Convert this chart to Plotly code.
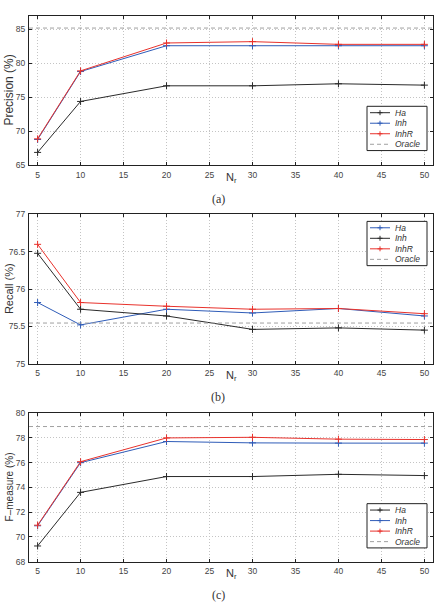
import plotly.graph_objects as go

N_r = [5, 10, 20, 30, 40, 50]

# (a) Precision
prec_ha = [66.9, 74.4, 76.7, 76.7, 77.0, 76.8]
prec_inh = [68.8, 78.8, 82.6, 82.6, 82.6, 82.6]
prec_inhr = [68.9, 78.9, 83.0, 83.2, 82.8, 82.8]
prec_oracle = 85.2

# (b) Recall
rec_ha = [75.82, 75.52, 75.73, 75.68, 75.74, 75.64]
rec_inh = [76.48, 75.73, 75.64, 75.46, 75.48, 75.45]
rec_inhr = [76.60, 75.82, 75.77, 75.73, 75.74, 75.67]
rec_oracle = 75.545

# (c) F-measure
f_ha = [69.27, 73.6, 74.88, 74.88, 75.06, 74.96]
f_inh = [70.9, 76.0, 77.71, 77.6, 77.58, 77.58]
f_inhr = [70.95, 76.08, 78.0, 78.05, 77.9, 77.87]
f_oracle = 78.92

x_ticks = [5, 10, 15, 20, 25, 30, 35, 40, 45, 50]
y_ticks_a = [65, 70, 75, 80, 85]
y_ticks_b = [75, 75.5, 76, 76.5, 77]
y_ticks_c = [68, 70, 72, 74, 76, 78, 80]

series_names = ["Ha", "Inh", "InhR", "Oracle"]

BLACK = "#2a2a2a"
BLUE = "#2f5cb8"
RED = "#e8322c"
GRAY = "#a0a0a0"
FONT = "Liberation Sans"

W, H = 440, 608
fig = go.Figure()


def add_series(ax, x, y, name, color):
    fig.add_trace(go.Scatter(
        x=x, y=y, name=name, mode="lines+markers", showlegend=False,
        line=dict(color=color, width=1),
        marker=dict(symbol="cross-thin", size=5, line=dict(color=color, width=1)),
        xaxis="x" + ax, yaxis="y" + ax))


def add_oracle(ax, val):
    fig.add_trace(go.Scatter(
        x=[4, 51], y=[val, val], name="Oracle", mode="lines", showlegend=False,
        line=dict(color=GRAY, width=1, dash="4px,3px"),
        xaxis="x" + ax, yaxis="y" + ax))


panel_colors = [
    [BLACK, BLUE, RED],
    [BLUE, BLACK, RED],
    [BLACK, BLUE, RED],
]

# subplot a
add_series("", N_r, prec_ha, "Ha", BLACK)
add_series("", N_r, prec_inh, "Inh", BLUE)
add_series("", N_r, prec_inhr, "InhR", RED)
add_oracle("", prec_oracle)
# subplot b
add_series("2", N_r, rec_ha, "Ha", BLUE)
add_series("2", N_r, rec_inh, "Inh", BLACK)
add_series("2", N_r, rec_inhr, "InhR", RED)
add_oracle("2", rec_oracle)
# subplot c
add_series("3", N_r, f_ha, "Ha", BLACK)
add_series("3", N_r, f_inh, "Inh", BLUE)
add_series("3", N_r, f_inhr, "InhR", RED)
add_oracle("3", f_oracle)


def px(p):
    return p / W


def py(p):
    return 1 - p / H


xdom = [29 / W, 433 / W]
panels = [
    # (top px, bottom px, yrange, yticks, ytitle, title size, legend top px)
    (11, 163, [65, 87], y_ticks_a, "Precision (%)", 12, 103),
    (213, 364.7, [75, 77], y_ticks_b, "Recall (%)", 11, 220),
    (415, 566, [68, 80], y_ticks_c, "F\u2013measure (%)", 10, 507),
]

axis_common = dict(
    showline=True, linecolor="#222", linewidth=1, mirror="allticks",
    ticks="inside", ticklen=3, tickcolor="#222", tickwidth=1,
    showgrid=True, gridcolor="#c4c4c4", griddash="1px,2px", gridwidth=1,
    zeroline=False, tickfont=dict(family=FONT, size=8.5, color="#444"),
)

annotations = []
shapes = []
captions = ["(a)", "(b)", "(c)"]
layout = {}
for i, (top, bot, yr, yt, ytitle, tsize, legtop) in enumerate(panels):
    sfx = "" if i == 0 else str(i + 1)
    layout["xaxis" + sfx] = dict(
        domain=xdom, range=[4, 51], tickvals=x_ticks, anchor="y" + sfx,
        ticklabelstandoff=1, **axis_common)
    layout["yaxis" + sfx] = dict(
        domain=[py(bot), py(top)], range=yr, tickvals=yt, anchor="x" + sfx,
        ticklabelstandoff=1, **axis_common)
    mid = (top + bot) / 2
    annotations.append(dict(
        text=ytitle, textangle=-90, xref="paper", yref="paper",
        x=9 / W, y=py(mid), xanchor="center", yanchor="middle", showarrow=False,
        font=dict(family=FONT, size=tsize, color="#333")))
    annotations.append(dict(
        text="N<sub>r</sub>", xref="paper", yref="paper",
        x=231 / W, y=py(bot + 13), xanchor="center", yanchor="middle",
        showarrow=False, font=dict(family=FONT, size=11, color="#333")))
    annotations.append(dict(
        text=captions[i], xref="paper", yref="paper",
        x=218 / W, y=py(bot + 34), xanchor="center", yanchor="middle",
        showarrow=False, font=dict(family="Liberation Serif", size=12, color="#333")))

    # manual legend box
    lx0, lx1 = 367, 427
    ly0, ly1 = legtop, legtop + 45
    shapes.append(dict(type="rect", xref="paper", yref="paper",
                       x0=px(lx0), x1=px(lx1), y0=py(ly1), y1=py(ly0),
                       line=dict(color="#222", width=1), fillcolor="white",
                       layer="above"))
    colors = panel_colors[i] + [GRAY]
    for k, name in enumerate(series_names):
        yy = legtop + 6.5 + 10.7 * k
        dash = "solid" if k < 3 else "4px,3px"
        shapes.append(dict(type="line", xref="paper", yref="paper",
                           x0=px(370), x1=px(390), y0=py(yy), y1=py(yy),
                           line=dict(color=colors[k], width=1, dash=dash),
                           layer="above"))
        if k < 3:
            shapes.append(dict(type="line", xref="paper", yref="paper",
                               x0=px(377.5), x1=px(382.5), y0=py(yy), y1=py(yy),
                               line=dict(color=colors[k], width=1), layer="above"))
            shapes.append(dict(type="line", xref="paper", yref="paper",
                               x0=px(380), x1=px(380), y0=py(yy - 2.5), y1=py(yy + 2.5),
                               line=dict(color=colors[k], width=1), layer="above"))
        annotations.append(dict(
            text="<i>" + name + "</i>", xref="paper", yref="paper",
            x=px(393), y=py(yy), xanchor="left", yanchor="middle", showarrow=False,
            font=dict(family=FONT, size=8.5, color="#333")))

fig.update_layout(
    width=W, height=H, margin=dict(l=0, r=0, t=0, b=0),
    paper_bgcolor="white", plot_bgcolor="white",
    annotations=annotations, shapes=shapes, **layout)

fig.write_html("out.html")
